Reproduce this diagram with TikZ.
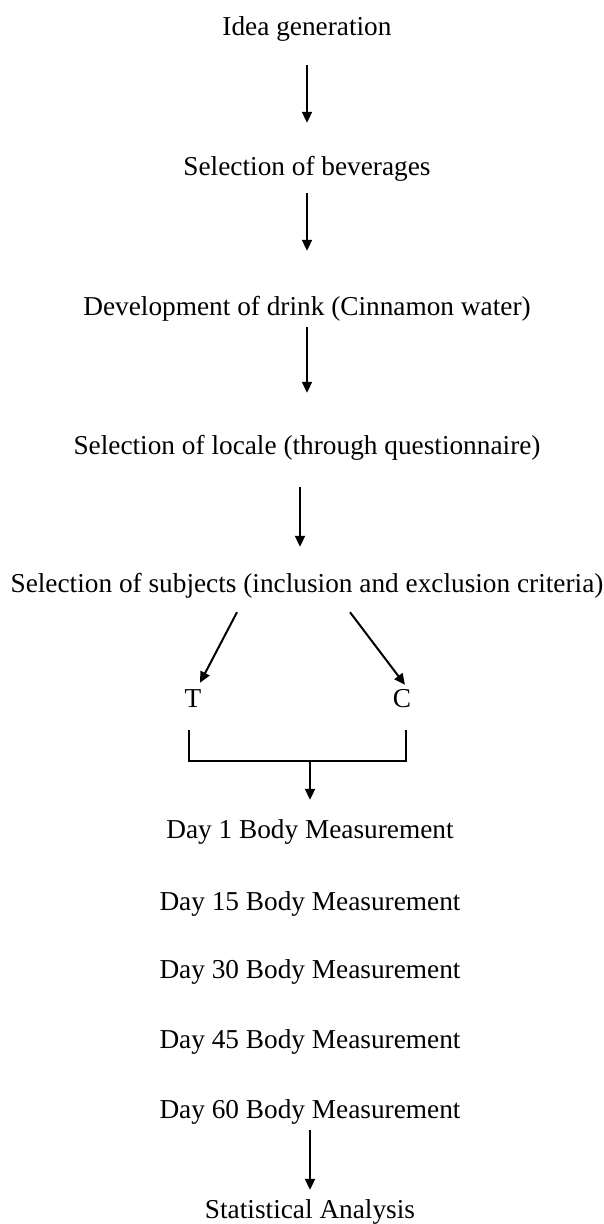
\documentclass[tikz,border=0pt]{standalone}
\usepackage{fontspec}
\setmainfont{Liberation Serif}
\usetikzlibrary{arrows.meta}
\tikzset{
	txt/.style={anchor=base,inner sep=0pt,text height=19pt,text depth=6pt,font=\fontsize{27.3}{32}\selectfont},
	arr/.style={-{Triangle[length=11pt,width=10pt]},line width=2pt},
}
\begin{document}
\begin{tikzpicture}[x=1pt,y=-1pt]
		\useasboundingbox (0,0) rectangle (604,1224);
		\node[txt] (idea)   at (307,35)   {Idea generation};
		\node[txt] (bev)    at (307,175)  {Selection of beverages};
		\node[txt] (drink)  at (307,315)  {Development of drink (Cinnamon water)};
		\node[txt] (locale) at (307,454)  {Selection of locale (through questionnaire)};
		\node[txt] (subj)   at (307,592)  {Selection of subjects (inclusion and exclusion criteria)};
		\node[txt] (t)      at (193,707)  {T};
		\node[txt] (c)      at (402,707)  {C};
		\node[txt] (d1)     at (310,838)  {Day 1 Body Measurement};
		\node[txt] (d15)    at (310,910)  {Day 15 Body Measurement};
		\node[txt] (d30)    at (310,978)  {Day 30 Body Measurement};
		\node[txt] (d45)    at (310,1048) {Day 45 Body Measurement};
		\node[txt] (d60)    at (310,1118) {Day 60 Body Measurement};
		\node[txt] (stat)   at (310,1218) {Statistical Analysis};
		\coordinate (join) at (310,761);
		\draw[arr,shorten <=24pt,shorten >=33pt] (idea) -- (bev);
		\draw[arr,shorten <=12pt,shorten >=45pt] (bev) -- (drink);
		\draw[arr,shorten <=6pt,shorten >=42pt] (drink) -- (locale);
		\draw[arr,shorten <=27pt,shorten >=26pt] ([xshift=-7pt]locale.south) -- ([xshift=-7pt]subj.north);
		\draw[arr] ([xshift=-70pt,yshift=-14pt]subj.south) -- ([xshift=7pt,yshift=5pt]t.north);
		\draw[arr] ([xshift=43pt,yshift=-14pt]subj.south) -- ([xshift=3pt,yshift=3pt]c.north);
		\draw[line width=1.8pt] ([xshift=-4pt,yshift=-17pt]t.south) |- (join) -| ([xshift=4pt,yshift=-17pt]c.south);
		\draw[arr,shorten >=19pt] (join) -- (d1);
		\draw[arr,shorten <=6pt,shorten >=9pt] (d60) -- (stat);
	\end{tikzpicture}
\end{document}
